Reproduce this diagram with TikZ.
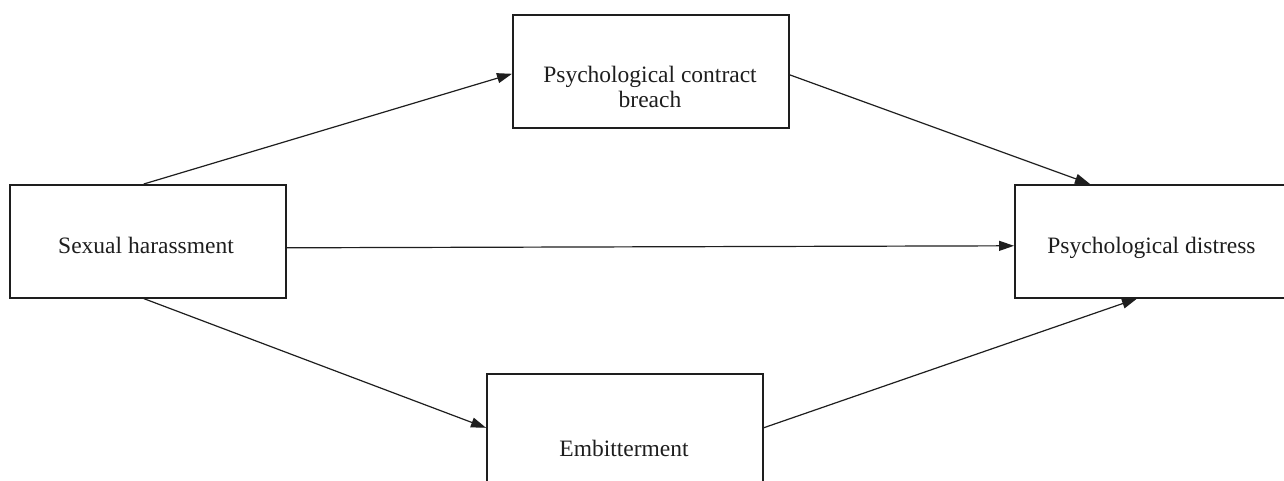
\documentclass[tikz,border=0pt]{standalone}
\usepackage{fontspec}
\setmainfont{Liberation Serif}
\usetikzlibrary{arrows.meta}
\definecolor{ink}{HTML}{1E1E1E}
\tikzset{
  boxnode/.style={draw=ink, line width=1.6pt, minimum width=276pt, minimum height=113pt, inner sep=0pt, anchor=north west},
  txt/.style={font=\fontsize{23.5}{25}\selectfont, text=ink, anchor=base, inner sep=0pt},
  conn/.style={draw=ink, line width=1.2pt, -{Triangle[length=15pt,width=10pt]}}
}
\begin{document}
\begin{tikzpicture}[x=1pt,y=-1pt]
\useasboundingbox (0,0) rectangle (1284,481);
\clip (0,0) rectangle (1284,481);
\fill[white] (0,0) rectangle (1284,481);
% boxes
\node[boxnode] (sh) at (9,184) {};
\node[boxnode] (pcb) at (512,14) {};
\node[boxnode] (pd) at (1014,184) {};
\node[boxnode] (em) at (486,373) {};
% labels
\node[txt] (shT) at (146,253) {Sexual harassment};
\node[txt] (pcbT1) at (650,83) {Psychological contract};
\node[txt] (pcbT2) at (650,108) {breach};
\node[txt] (pdT) at (1151.5,253) {Psychological distress};
\node[txt] (emT) at (624,456) {Embitterment};
% connectors
\draw[conn] ([xshift=-4pt]sh.north) -- ([yshift=-2.5pt]pcb.west);
\draw[conn] ([yshift=-3.5pt]pcb.east) -- ([xshift=76pt]pd.north west);
\draw[conn] ([yshift=-6.5pt]sh.east) -- ([yshift=-4.5pt]pd.west);
\draw[conn] ([xshift=-4pt]sh.south) -- ([yshift=2.5pt]em.west);
\draw[conn] ([yshift=2.5pt]em.east) -- ([xshift=123pt]pd.south west);
\end{tikzpicture}
\end{document}
